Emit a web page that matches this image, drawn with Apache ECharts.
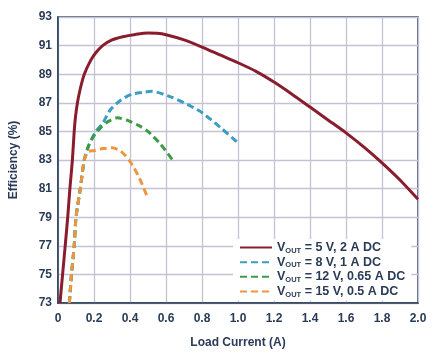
<!DOCTYPE html>
<html>
<head>
<meta charset="utf-8">
<script src="https://cdn.jsdelivr.net/npm/echarts@6/dist/echarts.min.js"></script>
<style>
  html, body { margin: 0; padding: 0; background: #fff; }
  #chart { width: 441px; height: 354px; }
</style>
</head>
<body>
<div id="chart"></div>
<script>
// values
const xTicks = [0, 0.2, 0.4, 0.6, 0.8, 1.0, 1.2, 1.4, 1.6, 1.8, 2.0];
const yTicks = [73, 75, 77, 79, 81, 83, 85, 87, 89, 91, 93];

const seriesNames = ['5 V, 2 A DC', '8 V, 1 A DC', '12 V, 0.65 A DC', '15 V, 0.5 A DC'];

const current5V = [0.011, 0.04, 0.054, 0.066, 0.08, 0.09, 0.097, 0.108, 0.124, 0.146, 0.183, 0.21, 0.248, 0.3, 0.36, 0.43, 0.5, 0.55, 0.6, 0.7, 0.8, 0.9, 1.0, 1.1, 1.2, 1.3, 1.4, 1.5, 1.6, 1.7, 1.8, 1.9, 2.0];
const eff5V = [73, 77, 79, 81, 83, 85, 86, 87, 88, 89, 90, 90.5, 91, 91.4, 91.62, 91.78, 91.88, 91.86, 91.76, 91.4, 90.9, 90.35, 89.8, 89.2, 88.45, 87.6, 86.7, 85.8, 84.9, 83.9, 82.8, 81.6, 80.25];

const current8V = [0.063, 0.075, 0.09, 0.1, 0.124, 0.146, 0.17, 0.21, 0.25, 0.29, 0.35, 0.41, 0.48, 0.52, 0.63, 0.7, 0.79, 0.9, 1.0];
const eff8V = [73, 75, 77, 79, 81, 83, 84, 85, 85.6, 86.5, 87.2, 87.6, 87.75, 87.8, 87.4, 87.0, 86.4, 85.3, 84.2];

const current12V = [0.063, 0.075, 0.09, 0.1, 0.124, 0.146, 0.17, 0.2, 0.24, 0.28, 0.33, 0.39, 0.45, 0.5, 0.57, 0.645];
const eff12V = [73, 75, 77, 79, 81, 83, 84, 84.7, 85.3, 85.7, 85.95, 85.75, 85.4, 85.0, 84.1, 82.85];

const current15V = [0.063, 0.075, 0.09, 0.1, 0.124, 0.146, 0.17, 0.2, 0.25, 0.3, 0.35, 0.4, 0.45, 0.5];
const eff15V = [73, 75, 77, 79, 81, 83, 83.6, 83.65, 83.8, 83.85, 83.6, 82.9, 81.8, 80.3];

const colors = ['#8a1c2e', '#3a9dc4', '#3f9a48', '#ef9440'];

function pairs(xs, ys) {
    return xs.map(function (x, i) { return [x, ys[i]]; });
}

const chart = echarts.init(document.getElementById('chart'));
const navy = '#2a3b57';
const font = '"Liberation Sans", Arial, sans-serif';

function makeSeries(name, data, color, dashed) {
    return {
        name: name,
        type: 'line',
        data: data,
        smooth: 0.25,
        showSymbol: false,
        symbol: 'none',
        lineStyle: { color: color, width: 3, type: dashed ? [7, 4] : 'solid' },
        itemStyle: { color: color },
        silent: true
    };
}

const options = {
    animation: false,
    color: colors,
    grid: {
        left: 57, right: 23, top: 17, bottom: 50,
        show: true, borderColor: navy, borderWidth: 1.5
    },
    legend: {
        orient: 'vertical',
        left: 233,
        top: 239,
        backgroundColor: '#fff',
        padding: [2, 6, 2, 6],
        itemWidth: 32,
        itemHeight: 10,
        itemGap: 1,
        selectedMode: false,
        itemStyle: { opacity: 0 },
        formatter: function (name) {
            return '{v|V}{s|OUT}{t| = ' + name + '}';
        },
        textStyle: {
            rich: {
                v: { fontFamily: font, fontWeight: 'bold', fontSize: 12.5, color: navy, lineHeight: 14.3 },
                s: { fontFamily: font, fontWeight: 'bold', fontSize: 7.5, color: navy, verticalAlign: 'bottom', lineHeight: 14.3 },
                t: { fontFamily: font, fontWeight: 'bold', fontSize: 12.5, color: navy, lineHeight: 14.3 }
            }
        },
        data: seriesNames
    },
    xAxis: {
        type: 'value',
        min: xTicks[0],
        max: xTicks[xTicks.length - 1],
        interval: 0.2,
        name: 'Load Current (A)',
        nameLocation: 'middle',
        nameGap: 34,
        nameTextStyle: { fontFamily: font, fontWeight: 'bold', fontSize: 12, color: navy },
        axisLine: { lineStyle: { color: navy, width: 1.5 } },
        axisTick: { show: false },
        axisLabel: {
            margin: 10,
            fontFamily: font, fontWeight: 'bold', fontSize: 12, color: navy,
            formatter: function (v) { return v === 0 ? '0' : v.toFixed(1); }
        },
        splitLine: { lineStyle: { color: '#c3c3d3', width: 1.3 } }
    },
    yAxis: {
        type: 'value',
        min: yTicks[0],
        max: yTicks[yTicks.length - 1],
        interval: 2,
        name: 'Efficiency (%)',
        nameLocation: 'middle',
        nameGap: 38,
        nameTextStyle: { fontFamily: font, fontWeight: 'bold', fontSize: 12, color: navy },
        axisLine: { show: true, lineStyle: { color: navy, width: 1.5 } },
        axisTick: { show: false },
        axisLabel: {
            margin: 6,
            fontFamily: font, fontWeight: 'bold', fontSize: 12, color: navy
        },
        splitLine: { lineStyle: { color: '#c3c3d3', width: 1.3 } }
    },
    series: [
        makeSeries(seriesNames[0], pairs(current5V, eff5V), colors[0], false),
        makeSeries(seriesNames[1], pairs(current8V, eff8V), colors[1], true),
        makeSeries(seriesNames[2], pairs(current12V, eff12V), colors[2], true),
        makeSeries(seriesNames[3], pairs(current15V, eff15V), colors[3], true)
    ]
};

chart.setOption(options);
</script>
</body>
</html>
